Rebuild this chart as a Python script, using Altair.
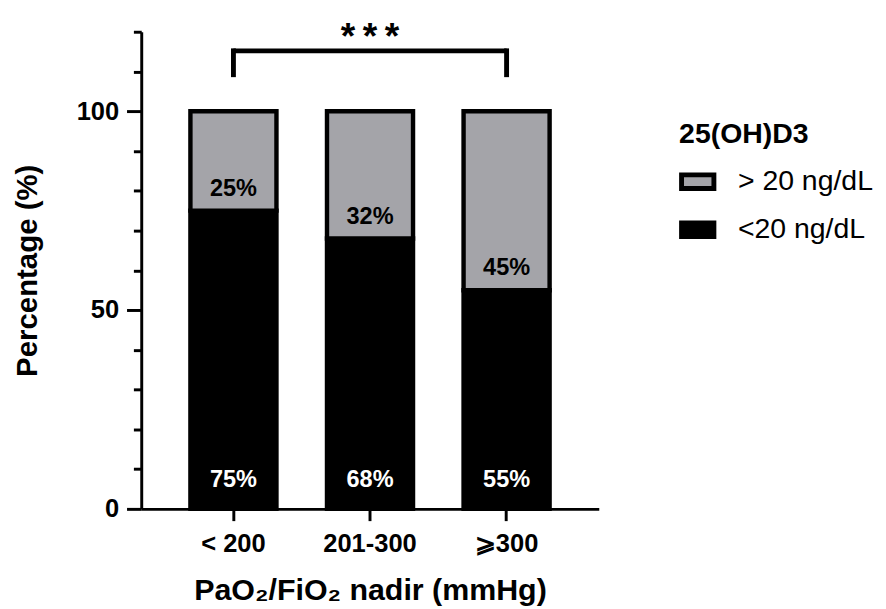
import altair as alt
import pandas as pd

# ---- data ----
categories = ["< 200", "201-300", "⩾300"]
below20 = [75, 68, 55]          # "<20 ng/dL" share (%)
above20 = [25, 32, 45]          # "> 20 ng/dL" share (%)
series = ["> 20 ng/dL", "<20 ng/dL"]
series_colors = ["#a4a4a9", "#000000"]
y_ticks = list(range(0, 125, 5))
y_domain = [0, 120]
sig_label = "*\u2009*\u2009*"
bracket_from = categories[0]
bracket_to = categories[2]
bracket_top = 115.2
bracket_leg = 109.2
sig_level = 120

FONT = "Liberation Sans"

rows = []
for c, lo, hi in zip(categories, below20, above20):
    rows.append({"cat": c, "series": series[1], "value": lo, "ord": 0})
    rows.append({"cat": c, "series": series[0], "value": hi, "ord": 1})
df = pd.DataFrame(rows)

lab_hi = pd.DataFrame({"cat": categories, "pos": below20,
                       "txt": [f"{v}%" for v in above20]})
lab_lo = pd.DataFrame({"cat": categories, "pos": [0] * len(categories),
                       "txt": [f"{v}%" for v in below20]})

x_scale = alt.Scale(domain=categories, paddingInner=0.37, paddingOuter=0.36)
y_scale = alt.Scale(domain=y_domain, nice=False, zero=True)

x_axis = alt.Axis(
    title="PaO₂/FiO₂ nadir (mmHg)", labelAngle=0,
    labelFont=FONT, labelFontSize=26, labelFontWeight="bold", labelColor="black",
    labelPadding=11, tickSize=12, tickWidth=3, tickColor="black",
    domainWidth=3, domainColor="black",
    titleFont=FONT, titleFontSize=31, titleFontWeight="bold", titleColor="black",
    titlePadding=19,
)
y_axis = alt.Axis(
    title="Percentage (%)", values=y_ticks,
    labelExpr="datum.value % 50 === 0 ? datum.label : ''",
    labelOverlap=False, labelFlush=False,
    tickSize={"condition": {"test": "datum.value % 50 === 0", "value": 15}, "value": 8},
    tickWidth=3, tickColor="black", domainWidth=3, domainColor="black",
    labelFont=FONT, labelFontSize=26, labelFontWeight="bold", labelColor="black",
    labelPadding=8, grid=False,
    titleFont=FONT, titleFontSize=30, titleFontWeight="bold", titleColor="black",
    titlePadding=35,
)

bars = alt.Chart(df).mark_bar(stroke="black", strokeWidth=4.5).encode(
    x=alt.X("cat:N", sort=categories, scale=x_scale, axis=x_axis),
    y=alt.Y("value:Q", stack="zero", scale=y_scale, axis=y_axis),
    color=alt.Color(
        "series:N", scale=alt.Scale(domain=series, range=series_colors),
        legend=alt.Legend(
            title="25(OH)D3", orient="none", legendX=549, legendY=91,
            titleFont=FONT, titleFontSize=29, titleFontWeight="bold", titleColor="black",
            titlePadding=14,
            labelFont=FONT, labelFontSize=29, labelColor="black", labelOffset=22,
            symbolType="M-1,-0.42H1V0.42H-1Z", symbolSize=1089,
            symbolStrokeColor="black", symbolStrokeWidth=5, symbolOpacity=1,
            rowPadding=13,
        ),
    ),
    order=alt.Order("ord:Q"),
)

txt_hi = alt.Chart(lab_hi).mark_text(
    font=FONT, fontSize=24, fontWeight="bold", color="black",
    baseline="middle", dy=-22,
).encode(x=alt.X("cat:N", sort=categories), y=alt.Y("pos:Q"), text="txt:N")

txt_lo = alt.Chart(lab_lo).mark_text(
    font=FONT, fontSize=24, fontWeight="bold", color="white",
    baseline="middle", dy=-29,
).encode(x=alt.X("cat:N", sort=categories), y=alt.Y("pos:Q"), text="txt:N")

br_h = pd.DataFrame({"a": [bracket_from], "b": [bracket_to], "y": [bracket_top]})
br_v = pd.DataFrame({"a": [bracket_from, bracket_to],
                     "y": [bracket_leg, bracket_leg], "y2": [bracket_top, bracket_top]})
star = pd.DataFrame({"a": [categories[1]], "y": [sig_level], "t": [sig_label]})

bracket_h = alt.Chart(br_h).mark_rule(color="black", strokeWidth=5).encode(
    x=alt.X("a:N", sort=categories), x2="b:N", y="y:Q")
bracket_v = alt.Chart(br_v).mark_rule(color="black", strokeWidth=5, strokeCap="square").encode(
    x=alt.X("a:N", sort=categories), y="y:Q", y2="y2:Q")
stars = alt.Chart(star).mark_text(
    font=FONT, fontSize=38, fontWeight="bold", color="black", baseline="top",
    dy=-12,
).encode(x=alt.X("a:N", sort=categories), y="y:Q", text="t:N")

chart = alt.layer(bars, txt_hi, txt_lo, bracket_h, bracket_v, stars).properties(
    width=467, height=487,
    padding={"left": 4, "top": 5, "right": 5, "bottom": 0},
).configure_view(stroke=None)

chart.save("out.html", embed_options={"renderer": "svg", "actions": False})
